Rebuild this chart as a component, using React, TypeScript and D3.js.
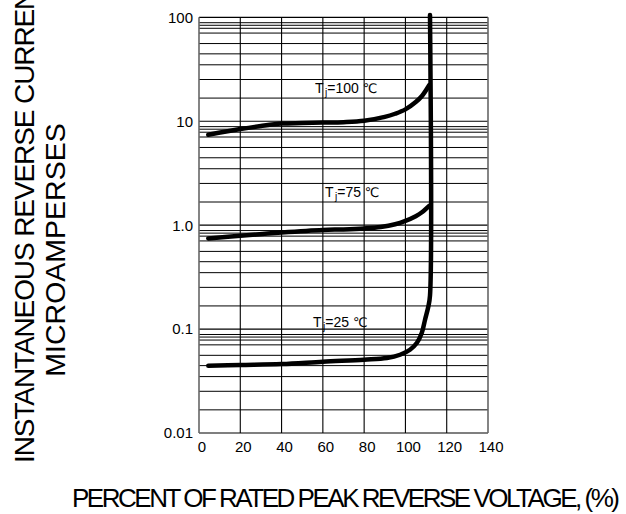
import React from "react";
import * as d3 from "d3";

const xTicks = [0, 20, 40, 60, 80, 100, 120, 140];
const yTicks = [0.01, 0.1, 1, 10, 100];
const yTickLabels = ["0.01", "0.1", "1.0", "10", "100"];
const minorFactors = [0.887, 0.838, 0.784, 0.705, 0.559, 0.445, 0.349, 0.252, 0.167];

const x100 = [4.5, 20, 30, 40, 50, 60, 70, 80, 90, 95, 100, 105, 108, 111.5];
const v100 = [7.4, 8.4, 9.0, 9.5, 9.6, 9.7, 9.8, 10.1, 11.0, 11.8, 13.0, 15.3, 17.5, 22.2];

const x75 = [4.5, 20, 40, 60, 70, 80, 88, 95, 100, 105, 108, 111.5];
const v75 = [0.745, 0.79, 0.85, 0.9, 0.91, 0.93, 0.96, 1.02, 1.1, 1.22, 1.33, 1.53];

const x25 = [4.5, 20, 40, 60, 80, 91, 97.4, 102.2, 105.5, 107.9, 109.5, 111.1, 111.9, 111.9];
const v25 = [0.0444, 0.0451, 0.046, 0.0485, 0.0507, 0.0526, 0.0566, 0.0633, 0.0734, 0.0915, 0.123, 0.165, 0.21, 105];

const labelTemps = ["100", "75", "25"];
const labelX = [56.2, 61, 55.2];
const labelV = [18.6, 1.86, 0.105];

const xTitle = "PERCENT OF RATED PEAK REVERSE VOLTAGE, (%)";
const yTitle1 = "INSTANTANEOUS REVERSE CURRENT,";
const yTitle2 = "MICROAMPERSES";

const W = 626;
const H = 514;
const FONT = "'Liberation Sans', Arial, sans-serif";

export default function App() {
  const x = d3.scaleLinear().domain([0, 140]).range([199, 488]);
  const y = d3.scaleLog().domain([0.01, 100]).range([433, 17.3]);

  const line = d3
    .line<[number, number]>()
    .x((d) => x(d[0]))
    .y((d) => y(d[1]))
    .curve(d3.curveCatmullRom.alpha(0.5));

  const series = [
    x100.map((v, i) => [v, v100[i]] as [number, number]),
    x75.map((v, i) => [v, v75[i]] as [number, number]),
    x25.map((v, i) => [v, v25[i]] as [number, number]),
  ];

  const minorLines: number[] = [];
  for (let i = 1; i < yTicks.length; i++) {
    minorFactors.forEach((f) => minorLines.push(yTicks[i] * f));
  }

  return (
    <svg
      width={W}
      height={H}
      style={{ position: "absolute", left: 0, top: 0, background: "#fff" }}
      fontFamily={FONT}
    >
      <rect x={0} y={0} width={W} height={H} fill="#fff" />
      {minorLines.map((v, i) => (
        <line key={"m" + i} x1={x(0)} x2={x(140)} y1={y(v)} y2={y(v)} stroke="#000" strokeWidth={1} />
      ))}
      {yTicks.map((v, i) => (
        <line key={"d" + i} x1={x(0)} x2={x(140)} y1={y(v)} y2={y(v)} stroke="#000" strokeWidth={1.2} />
      ))}
      {xTicks.map((v, i) => (
        <line
          key={"v" + i}
          x1={x(v)}
          x2={x(v)}
          y1={y(100)}
          y2={y(0.01)}
          stroke={i === 0 || i === xTicks.length - 1 ? "#666" : "#000"}
          strokeWidth={i === 0 || i === xTicks.length - 1 ? 1.6 : 1.1}
        />
      ))}
      {series.map((s, i) => (
        <path
          key={"c" + i}
          d={line(s) || ""}
          fill="none"
          stroke="#000"
          strokeWidth={4.5}
          strokeLinecap="round"
          strokeLinejoin="round"
        />
      ))}
      {labelTemps.map((t, i) => (
        <text key={"l" + i} x={x(labelX[i])} y={y(labelV[i])} fontSize={14} fill="#000">
          T
          <tspan fontSize={10} dy={3} dx={1.5}>
            j
          </tspan>
          <tspan dy={-3}>{"=" + t + " "}</tspan>
          <tspan fontFamily="'DejaVu Sans', sans-serif" fontSize={13}>
            ℃
          </tspan>
        </text>
      ))}
      {yTicks.map((v, i) => (
        <text
          key={"yt" + i}
          x={193}
          y={y(v)}
          dy="0.36em"
          textAnchor="end"
          fontSize={15}
          fill="#000"
        >
          {yTickLabels[i]}
        </text>
      ))}
      {xTicks.map((v, i) => (
        <text key={"xt" + i} x={x(v) + 3} y={452} textAnchor="middle" fontSize={15} fill="#000">
          {v}
        </text>
      ))}
      <text x={72} y={507} fontSize={26} textLength={548} lengthAdjust="spacing" fill="#000">
        {xTitle}
      </text>
      <text
        transform={`translate(34,463) rotate(-90)`}
        fontSize={28}
        letterSpacing={-1.1}
        fill="#000"
      >
        {yTitle1}
      </text>
      <text
        transform={`translate(65,250) rotate(-90)`}
        fontSize={28.5}
        textAnchor="middle"
        fill="#000"
      >
        {yTitle2}
      </text>
    </svg>
  );
}
